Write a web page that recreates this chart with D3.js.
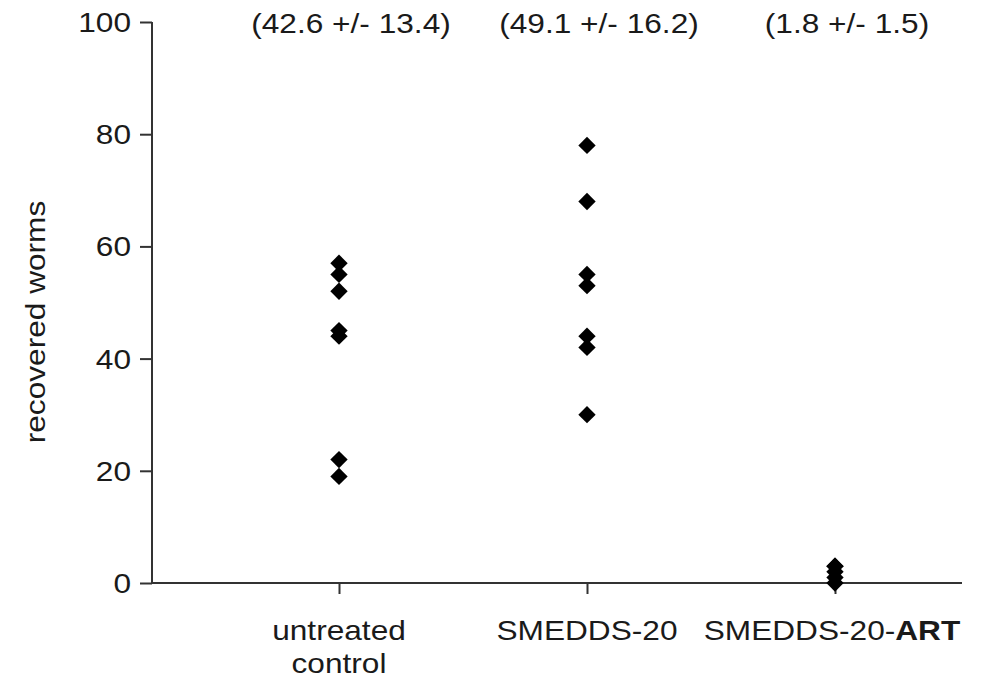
<!DOCTYPE html>
<html>
<head>
<meta charset="utf-8">
<script src="https://cdn.jsdelivr.net/npm/d3@7"></script>
<style>
  body { margin: 0; background: #fff; }
  svg text { font-family: "Liberation Sans", Arial, sans-serif; fill: #1a1a1a; }
</style>
</head>
<body>
<svg id="chart" width="987" height="682"></svg>
<script>
// Groups along the x axis
const groups = ["untreated control", "SMEDDS-20", "SMEDDS-20-ART"];
// Worms recovered per animal, one array per group
const untreatedValues = [57, 55, 52, 45, 44, 22, 19];
const smeddsValues = [78, 68, 55, 53, 44, 42, 30];
const artValues = [3, 3, 2, 1, 0];
// Mean +/- SD shown above each group
const summaryLabels = ["(42.6 +/- 13.4)", "(49.1 +/- 16.2)", "(1.8 +/- 1.5)"];
const yTicks = [0, 20, 40, 60, 80, 100];

const seriesByGroup = [untreatedValues, smeddsValues, artValues];

const svg = d3.select("#chart");
const plotLeft = 152, plotRight = 962, plotTop = 22, plotBottom = 583;
const fontSize = 28, stretch = 1.13;

const x = d3.scalePoint().domain(groups).range([339, 835]);
const y = d3.scaleLinear().domain([0, 100]).range([plotBottom, plotTop]);

// places a slightly wide text at (px, py)
function wideText(sel, px, py, anchor, rotate) {
  return sel.append("text")
    .attr("transform", `translate(${px},${py})` + (rotate ? ` rotate(${rotate})` : "") + ` scale(${stretch},1)`)
    .attr("text-anchor", anchor)
    .attr("font-size", fontSize);
}

// y axis
const yAxis = svg.append("g")
  .attr("transform", `translate(${plotLeft},0)`)
  .call(d3.axisLeft(y).tickValues(yTicks).tickSize(12).tickFormat(""));
yAxis.select(".domain").attr("d", `M0,${plotTop}V${plotBottom}`);
yTicks.forEach(t => wideText(svg, plotLeft - 21, y(t) + 10, "end").text(t));

// x axis
const xAxis = svg.append("g")
  .attr("transform", `translate(0,${plotBottom})`)
  .call(d3.axisBottom(x).tickSize(11).tickFormat(""));
xAxis.select(".domain").attr("d", `M${plotLeft},0H${plotRight}`);

svg.selectAll(".domain, .tick line").attr("stroke", "#333").attr("stroke-width", 2);

// category labels (bold "ART" suffix in the last group)
wideText(svg, x(groups[0]), 640, "middle").text("untreated");
wideText(svg, x(groups[0]), 673, "middle").text("control");
wideText(svg, x(groups[1]), 640, "middle").text(groups[1]);
const artLabel = wideText(svg, x(groups[2]) - 3, 640, "middle");
artLabel.append("tspan").text("SMEDDS-20-");
artLabel.append("tspan").attr("font-weight", "bold").text("ART");

// summary annotations
summaryLabels.forEach((s, i) => wideText(svg, x(groups[i]) + 12, 33, "middle").text(s));

// y axis title
wideText(svg, 45, 322, "middle", -90).text("recovered worms");

// diamonds
const diamond = d3.symbol().type(d3.symbolSquare).size(150);
const points = seriesByGroup.flatMap((vals, i) => vals.map(v => ({ g: groups[i], v })));
svg.append("g").selectAll("path").data(points).join("path")
  .attr("d", diamond)
  .attr("transform", d => `translate(${x(d.g)},${y(d.v)}) rotate(45)`)
  .attr("fill", "#000");
</script>
</body>
</html>
